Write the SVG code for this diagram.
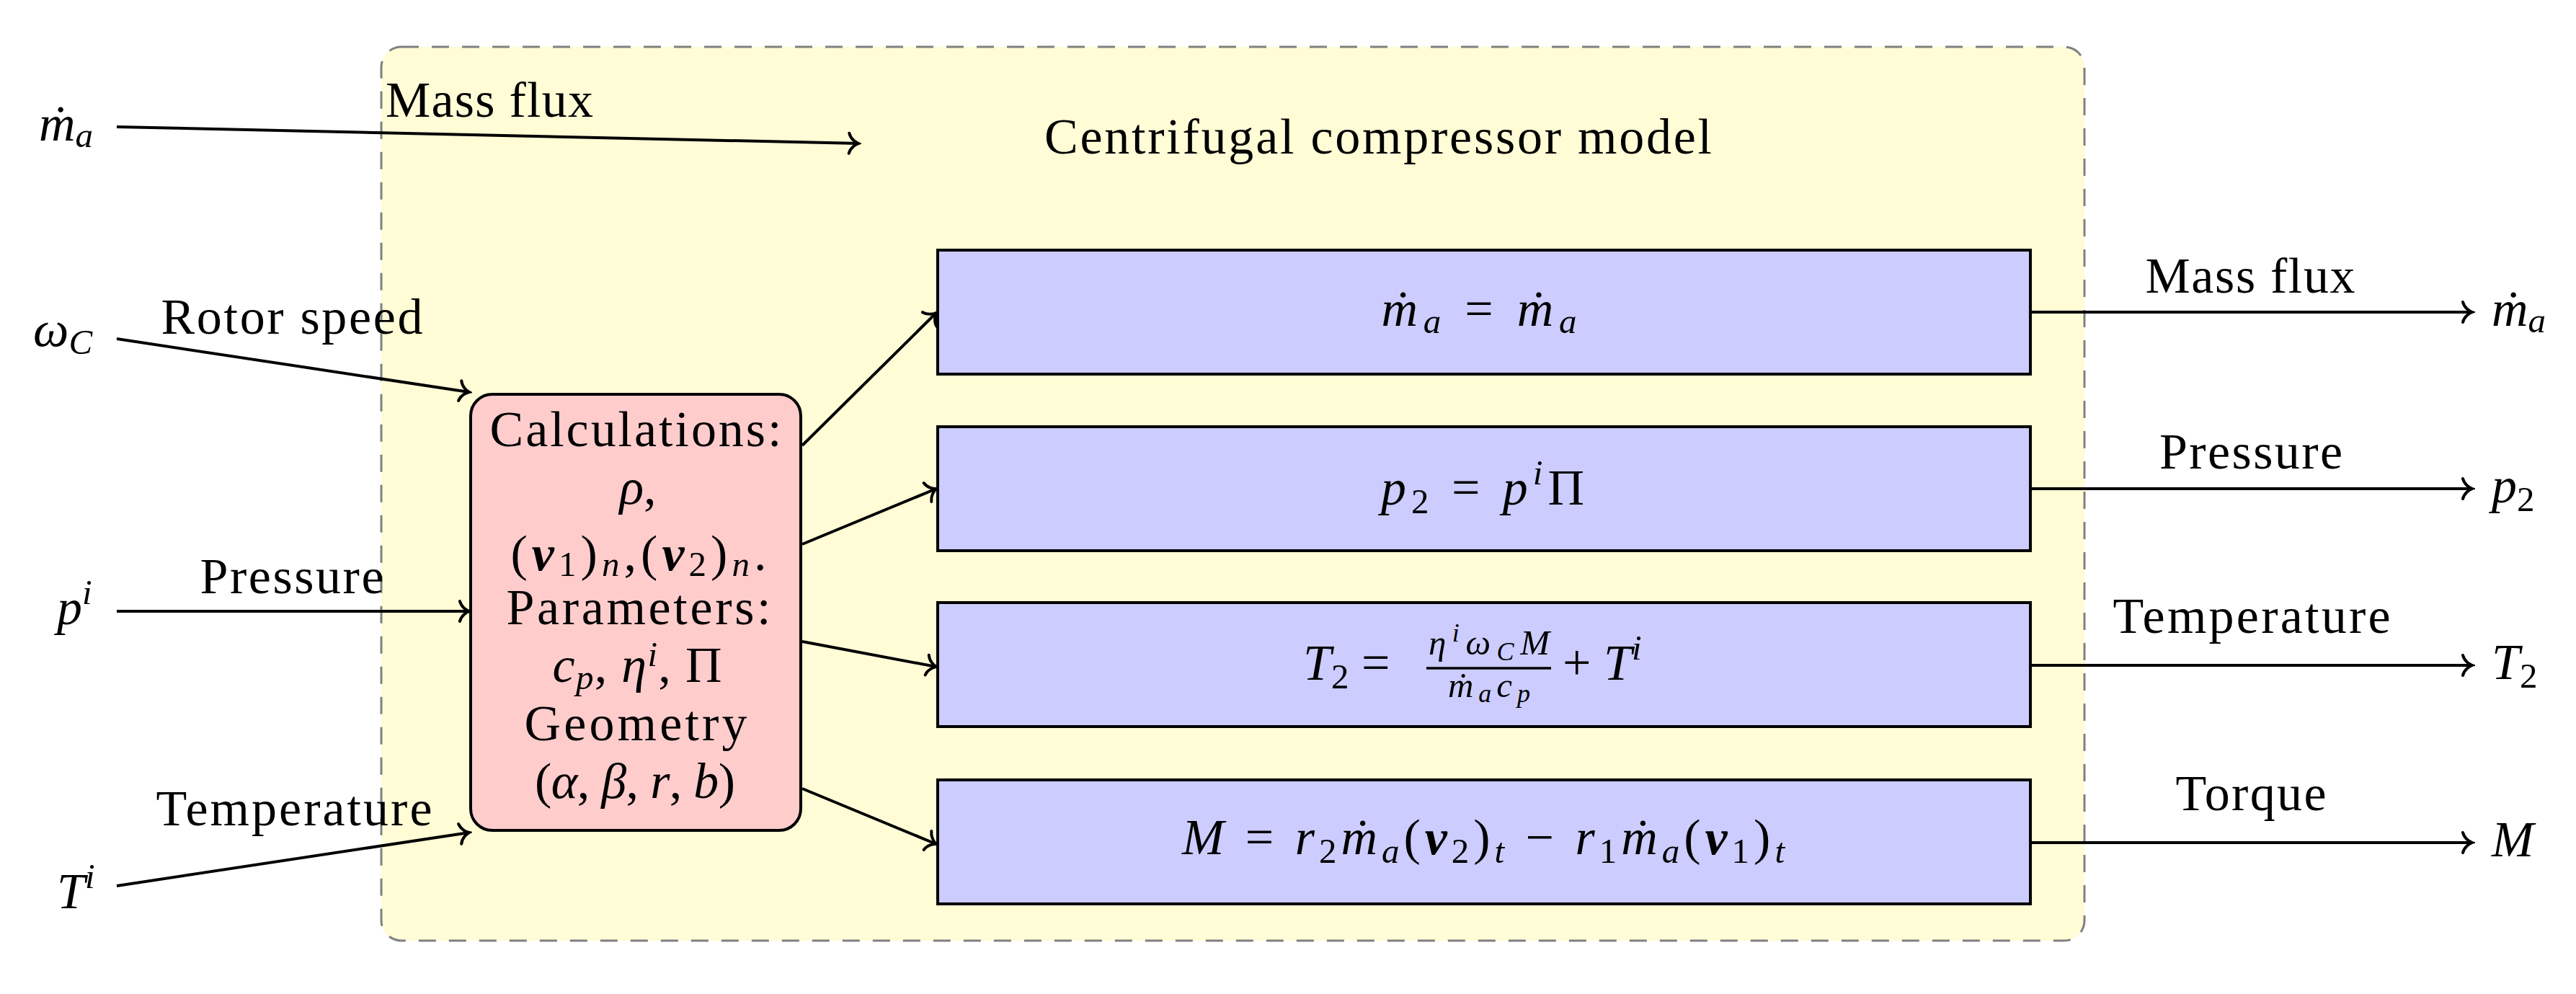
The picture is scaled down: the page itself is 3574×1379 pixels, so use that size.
<svg xmlns="http://www.w3.org/2000/svg" width="3574" height="1379" viewBox="0 0 3574 1379">
<style>
.t{font-family:'Liberation Serif','Times New Roman',serif;font-size:70px;fill:#000}
.i{font-style:italic}
.b{font-weight:bold}
.s{font-size:49px}
.ss{font-size:36px}
.conn{stroke:#000;stroke-width:4;fill:none;marker-end:url(#arr)}
.blue{fill:#CCCCFF;stroke:#000;stroke-width:4}
.calc{fill:#FFCCCC;stroke:#000;stroke-width:4}
.cont{fill:#FFFCD6;stroke:#808080;stroke-width:3;stroke-dasharray:24 18}
</style>
<defs>
<marker id="arr" viewBox="-18 -18 22 36" markerWidth="22" markerHeight="36" refX="0" refY="0" orient="auto" markerUnits="userSpaceOnUse">
<path d="M -13 -14 C -11 -6 -4 -1.5 0 0 C -4 1.5 -11 6 -13 14" fill="none" stroke="#000" stroke-width="4" stroke-linecap="round"/>
</marker>
</defs>
<rect width="3574" height="1379" fill="#fff"/>

<g id="container">
<rect class="cont" x="529" y="65" width="2363" height="1240" rx="28"/>
<text class="t" x="1912" y="213" text-anchor="middle" textLength="926">Centrifugal compressor model</text>
</g>

<g id="connectors">
<line class="conn" x1="162" y1="176" x2="1191" y2="199"/>
<line class="conn" x1="162" y1="470" x2="651" y2="544"/>
<line class="conn" x1="162" y1="848" x2="651" y2="848"/>
<line class="conn" x1="162" y1="1229" x2="651" y2="1155"/>
<line class="conn" x1="1113" y1="618" x2="1299" y2="434"/>
<line class="conn" x1="1113" y1="755" x2="1299" y2="678"/>
<line class="conn" x1="1113" y1="890" x2="1299" y2="925"/>
<line class="conn" x1="1113" y1="1094" x2="1299" y2="1171"/>
<line class="conn" x1="2817" y1="433" x2="3430" y2="433"/>
<line class="conn" x1="2817" y1="678" x2="3430" y2="678"/>
<line class="conn" x1="2817" y1="923" x2="3430" y2="923"/>
<line class="conn" x1="2817" y1="1169" x2="3430" y2="1169"/>
<text class="t" x="535" y="162" textLength="288">Mass flux</text>
<text class="t" x="405" y="463" text-anchor="middle" textLength="363">Rotor speed</text>
<text class="t" x="405" y="823" text-anchor="middle" textLength="255">Pressure</text>
<text class="t" x="408" y="1145" text-anchor="middle" textLength="383">Temperature</text>
<text class="t" x="3122" y="406" text-anchor="middle" textLength="291">Mass flux</text>
<text class="t" x="3123" y="650" text-anchor="middle" textLength="254">Pressure</text>
<text class="t" x="3124" y="878" text-anchor="middle" textLength="385">Temperature</text>
<text class="t" x="3123" y="1124" text-anchor="middle" textLength="209">Torque</text>
</g>

<g id="in-mdot">
<text class="t i" x="54" y="195">ṁ<tspan class="s" dy="9">a</tspan></text>
</g>
<g id="in-omega">
<text class="t i" x="46" y="480">ω<tspan class="s" dy="11">C</tspan></text>
</g>
<g id="in-p">
<text class="t i" x="79" y="866">p<tspan class="s" dy="-28">i</tspan></text>
</g>
<g id="in-T">
<text class="t i" x="79" y="1260">T<tspan class="s" dy="-28">i</tspan></text>
</g>

<g id="calc">
<rect class="calc" x="653" y="547" width="458" height="605" rx="30"/>
<text class="t" x="882" y="619" text-anchor="middle" textLength="405">Calculations:</text>
<text class="t" x="885" y="699" text-anchor="middle"><tspan class="i">ρ</tspan>,</text>
<text class="t" x="886" y="791" text-anchor="middle" textLength="355">(<tspan class="i b">v</tspan><tspan class="s" dy="8">1</tspan><tspan dy="-8">)</tspan><tspan class="s i" dy="8">n</tspan><tspan dy="-8">,(</tspan><tspan class="i b">v</tspan><tspan class="s" dy="8">2</tspan><tspan dy="-8">)</tspan><tspan class="s i" dy="8">n</tspan><tspan dy="-8">.</tspan></text>
<text class="t" x="886" y="866" text-anchor="middle" textLength="367">Parameters:</text>
<text class="t" x="884" y="946" text-anchor="middle" textLength="235"><tspan class="i">c</tspan><tspan class="s i" dy="10">p</tspan><tspan dy="-10">, </tspan><tspan class="i">η</tspan><tspan class="s i" dy="-22">i</tspan><tspan dy="22">, Π</tspan></text>
<text class="t" x="882" y="1027" text-anchor="middle" textLength="309">Geometry</text>
<text class="t" x="881" y="1107" text-anchor="middle" textLength="278">(<tspan class="i">α</tspan>, <tspan class="i">β</tspan>, <tspan class="i">r</tspan>, <tspan class="i">b</tspan>)</text>
</g>

<g id="box-mass">
<rect class="blue" x="1301" y="347" width="1516" height="172"/>
<text class="t" x="2052" y="452" text-anchor="middle" textLength="271"><tspan class="i">ṁ</tspan><tspan class="s i" dy="10">a</tspan><tspan dy="-10"> = </tspan><tspan class="i">ṁ</tspan><tspan class="s i" dy="10">a</tspan></text>
</g>

<g id="box-pressure">
<rect class="blue" x="1301" y="592" width="1516" height="172"/>
<text class="t" x="2057" y="700" text-anchor="middle" textLength="282"><tspan class="i">p</tspan><tspan class="s" dy="12">2</tspan><tspan dy="-12"> = </tspan><tspan class="i">p</tspan><tspan class="s i" dy="-28">i</tspan><tspan dy="28">Π</tspan></text>
</g>

<g id="box-temperature">
<rect class="blue" x="1301" y="836" width="1516" height="172"/>
<text class="t" x="1808" y="943"><tspan class="i">T</tspan><tspan class="s" dy="12">2</tspan><tspan dy="-12"> =</tspan></text>
<text class="t s" x="2066" y="908" text-anchor="middle" textLength="168"><tspan class="i">η</tspan><tspan class="ss i" dy="-18">i</tspan><tspan class="i" dy="18">ω</tspan><tspan class="ss i" dy="8">C</tspan><tspan class="i" dy="-8">M</tspan></text>
<line x1="1979" y1="927" x2="2152" y2="927" stroke="#000" stroke-width="3.5"/>
<text class="t s" x="2066" y="967" text-anchor="middle" textLength="114"><tspan class="i">ṁ</tspan><tspan class="ss i" dy="7">a</tspan><tspan class="i" dy="-7">c</tspan><tspan class="ss i" dy="7">p</tspan></text>
<text class="t" x="2168" y="943">+ <tspan class="i">T</tspan><tspan class="s i" dy="-28">i</tspan></text>
</g>

<g id="box-torque">
<rect class="blue" x="1301" y="1082" width="1516" height="172"/>
<text class="t" x="2058" y="1185" text-anchor="middle" textLength="836"><tspan class="i">M</tspan> = <tspan class="i">r</tspan><tspan class="s" dy="12">2</tspan><tspan class="i" dy="-12">ṁ</tspan><tspan class="s i" dy="12">a</tspan><tspan dy="-12">(</tspan><tspan class="i b">v</tspan><tspan class="s" dy="12">2</tspan><tspan dy="-12">)</tspan><tspan class="s i" dy="12">t</tspan><tspan dy="-12"> − </tspan><tspan class="i">r</tspan><tspan class="s" dy="12">1</tspan><tspan class="i" dy="-12">ṁ</tspan><tspan class="s i" dy="12">a</tspan><tspan dy="-12">(</tspan><tspan class="i b">v</tspan><tspan class="s" dy="12">1</tspan><tspan dy="-12">)</tspan><tspan class="s i" dy="12">t</tspan></text>
</g>

<g id="out-mdot">
<text class="t i" x="3457" y="452">ṁ<tspan class="s" dy="9">a</tspan></text>
</g>
<g id="out-p">
<text class="t i" x="3457" y="697">p<tspan class="s" font-style="normal" dy="12">2</tspan></text>
</g>
<g id="out-T">
<text class="t i" x="3457" y="942">T<tspan class="s" font-style="normal" dy="12">2</tspan></text>
</g>
<g id="out-M">
<text class="t i" x="3457" y="1188">M</text>
</g>
</svg>
